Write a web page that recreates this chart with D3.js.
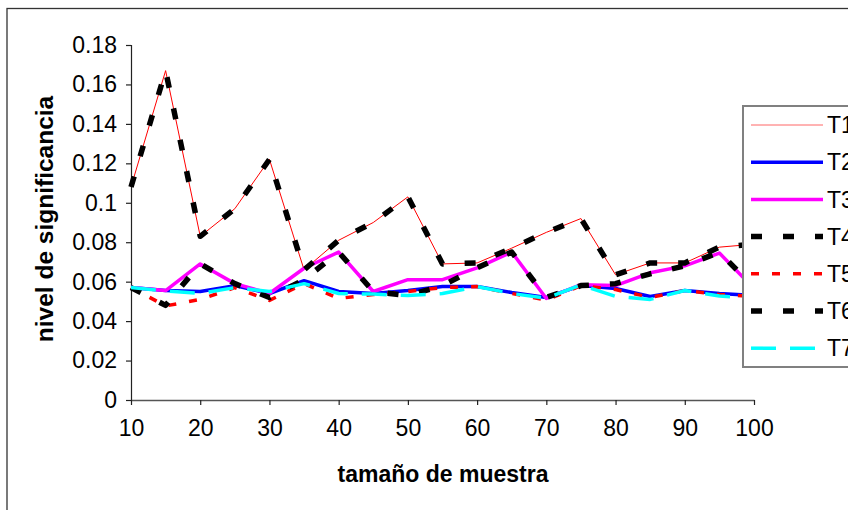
<!DOCTYPE html>
<html>
<head>
<meta charset="utf-8">
<script src="https://cdn.jsdelivr.net/npm/d3@7/dist/d3.min.js"></script>
<style>
  html, body { margin: 0; padding: 0; background: #fff; }
  svg { display: block; }
  text { font-family: "Liberation Sans", Arial, sans-serif; fill: #000; }
</style>
</head>
<body>
<svg id="chart" width="848" height="510"></svg>
<script>
// ---- data ----
const sizes = [10, 15, 20, 25, 30, 35, 40, 45, 50, 55, 60, 65, 70, 75, 80, 85, 90, 95, 100];
const T1 = [0.108, 0.167, 0.083, 0.097, 0.122, 0.066, 0.081, 0.090, 0.103, 0.069, 0.0695, 0.077, 0.085, 0.092, 0.0635, 0.0695, 0.0695, 0.0775, 0.079];
const T2 = [0.057, 0.0555, 0.055, 0.058, 0.054, 0.0605, 0.055, 0.054, 0.0555, 0.0575, 0.0575, 0.0545, 0.052, 0.058, 0.0565, 0.0525, 0.0555, 0.054, 0.053];
const T3 = [0.057, 0.0555, 0.069, 0.059, 0.054, 0.0668, 0.075, 0.055, 0.061, 0.061, 0.067, 0.075, 0.0515, 0.0585, 0.058, 0.0645, 0.068, 0.0745, 0.0565];
const T4 = [0.108, 0.167, 0.083, 0.097, 0.122, 0.066, 0.081, 0.090, 0.103, 0.069, 0.0695, 0.077, 0.085, 0.092, 0.0635, 0.0695, 0.0695, 0.0775, 0.079];
const T5 = [0.057, 0.0477, 0.051, 0.057, 0.0505, 0.059, 0.0515, 0.0535, 0.055, 0.057, 0.0575, 0.054, 0.0507, 0.058, 0.056, 0.052, 0.0555, 0.0535, 0.0525];
const T6 = [0.057, 0.048, 0.069, 0.059, 0.052, 0.061, 0.075, 0.055, 0.053, 0.058, 0.067, 0.075, 0.052, 0.058, 0.059, 0.064, 0.068, 0.075, 0.057];
const T7 = [0.057, 0.0553, 0.054, 0.057, 0.055, 0.059, 0.054, 0.0537, 0.053, 0.054, 0.0575, 0.054, 0.0516, 0.0583, 0.0525, 0.051, 0.0555, 0.0527, 0.0516];
const seriesNames = ["T1", "T2", "T3", "T4", "T5", "T6", "T7"];
const xTicks = [10, 20, 30, 40, 50, 60, 70, 80, 90, 100];
const yTicks = [0, 0.02, 0.04, 0.06, 0.08, 0.1, 0.12, 0.14, 0.16, 0.18];
const xTitle = "tamaño de muestra";
const yTitle = "nivel de significancia";

// ---- styles ----
const styles = {
  T1: { color: "#FF0000", width: 1, dash: null },
  T2: { color: "#0000FF", width: 3.5, dash: null },
  T3: { color: "#FF00FF", width: 3.5, dash: null },
  T4: { color: "#000000", width: 5.5, dash: "11,21" },
  T5: { color: "#FF0000", width: 3.5, dash: "8,13" },
  T6: { color: "#000000", width: 5.5, dash: "11,21" },
  T7: { color: "#00FFFF", width: 3.5, dash: "25,14" }
};
const seriesData = { T1, T2, T3, T4, T5, T6, T7 };

const svg = d3.select("#chart");

// outer chart frame
svg.append("rect")
  .attr("x", 7).attr("y", 8.5).attr("width", 900).attr("height", 600)
  .attr("fill", "#fff").attr("stroke", "#333").attr("stroke-width", 1.3);

const x = d3.scaleLinear().domain([10, 100]).range([131, 754]);
const y = d3.scaleLinear().domain([0, 0.18]).range([400, 45]);

// y axis
const yAxis = d3.axisLeft(y).tickValues(yTicks).tickSize(5).tickPadding(9)
  .tickFormat(d => d === 0 ? "0" : d3.format("")(+d.toFixed(2)));
const gy = svg.append("g").attr("transform", "translate(131,0)").call(yAxis);
gy.select(".domain").attr("stroke", "#222").attr("stroke-width", 1.2);
gy.selectAll(".tick line").attr("stroke", "#222").attr("stroke-width", 1.2);
gy.selectAll(".tick text").style("font-size", "23px").attr("fill", "#000");

// x axis
const xAxis = d3.axisBottom(x).tickValues(xTicks).tickSize(5).tickPadding(15).tickSizeOuter(0);
const gx = svg.append("g").attr("transform", "translate(0,400)").call(xAxis);
gx.select(".domain").attr("stroke", "#555").attr("stroke-width", 1.6);
gx.selectAll(".tick line").attr("stroke", "#222").attr("stroke-width", 1.2);
gx.selectAll(".tick text").style("font-size", "23px").attr("fill", "#000");

// axis titles
svg.append("text")
  .attr("x", 443).attr("y", 482)
  .attr("text-anchor", "middle")
  .style("font-size", "23px").style("font-weight", "bold")
  .text(xTitle);
svg.append("text")
  .attr("transform", "translate(53,219) rotate(-90)")
  .attr("text-anchor", "middle")
  .style("font-size", "24.5px").style("font-weight", "bold")
  .text(yTitle);

// lines
const line = d3.line().x((d, i) => x(sizes[i])).y(d => y(d));
seriesNames.forEach(name => {
  const s = styles[name];
  svg.append("path")
    .datum(seriesData[name])
    .attr("d", line)
    .attr("fill", "none")
    .attr("stroke", s.color)
    .attr("stroke-width", s.width)
    .attr("stroke-dasharray", s.dash)
    .attr("stroke-linejoin", "round");
});

// legend
const lg = svg.append("g");
lg.append("rect")
  .attr("x", 743).attr("y", 106).attr("width", 200).attr("height", 261)
  .attr("fill", "#fff").attr("stroke", "#808080").attr("stroke-width", 2);
seriesNames.forEach((name, i) => {
  const s = styles[name];
  const cy = 125 + i * 37.2;
  lg.append("line")
    .attr("x1", 751).attr("x2", 823).attr("y1", cy).attr("y2", cy)
    .attr("stroke", s.color)
    .attr("stroke-width", s.width)
    .attr("stroke-dasharray", s.dash)
    .attr("stroke-opacity", name === "T1" ? 0.6 : 1);
  lg.append("text")
    .attr("x", 827).attr("y", cy).attr("dy", "0.36em")
    .style("font-size", "23px")
    .text(name);
});
</script>
</body>
</html>
